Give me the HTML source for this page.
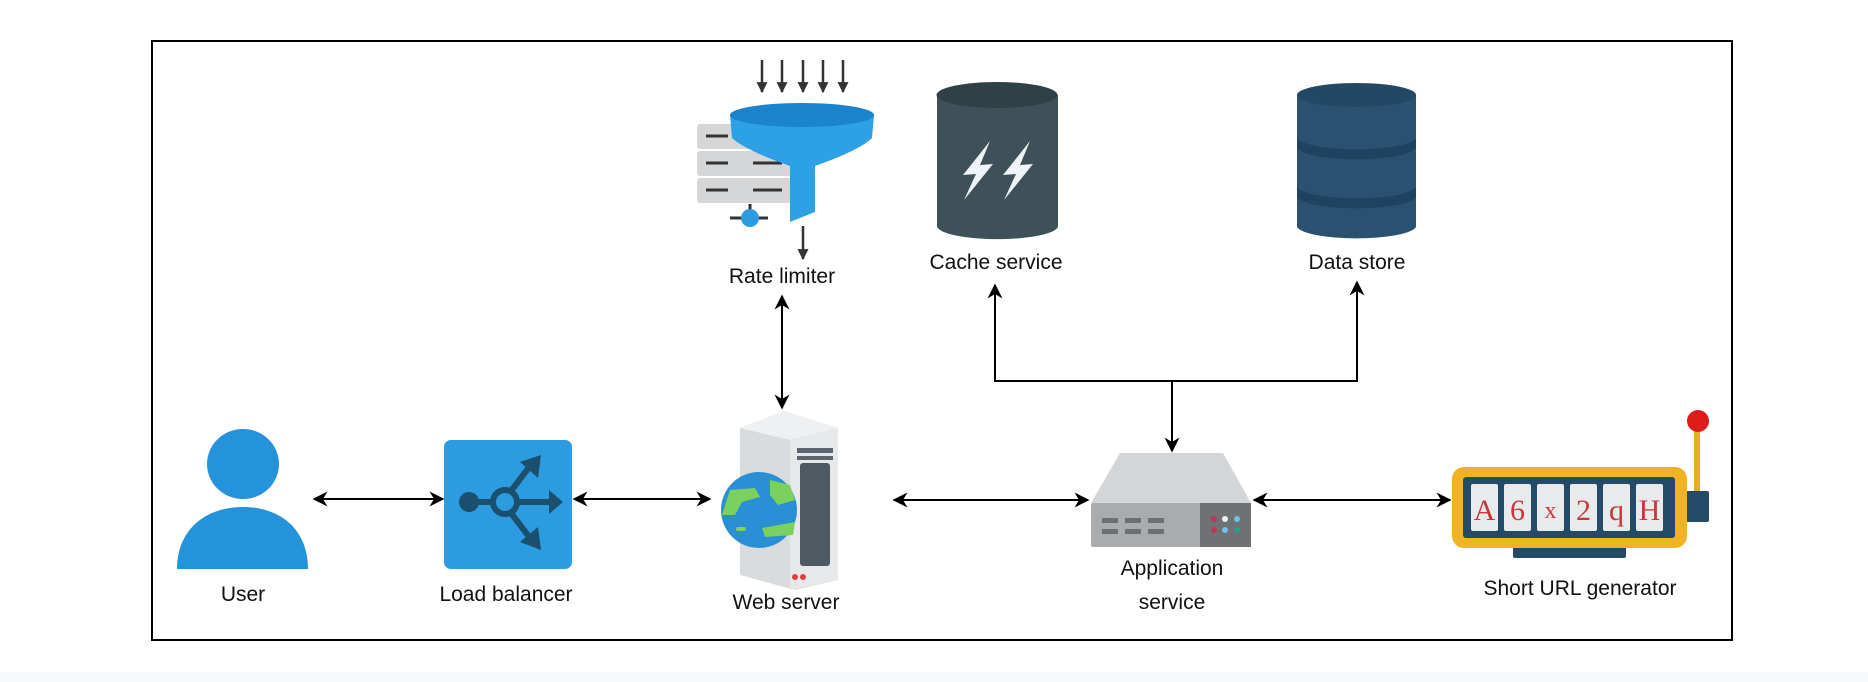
<!DOCTYPE html>
<html><head><meta charset="utf-8"><style>
html,body{margin:0;padding:0;background:#fff;}
svg{display:block;}
text{font-family:"Liberation Sans",Arial,sans-serif;font-size:21px;fill:#111;text-anchor:middle;}
</style></head><body>
<svg width="1868" height="682" viewBox="0 0 1868 682" xmlns="http://www.w3.org/2000/svg">
<defs>
<marker id="a" viewBox="0 0 10 10" refX="9" refY="5" markerWidth="15" markerHeight="15" orient="auto-start-reverse" markerUnits="userSpaceOnUse">
<path d="M0,0 L10,5 L0,10 L3,5 Z" fill="#000"/></marker>
<marker id="s" viewBox="0 0 10 10" refX="9" refY="5" markerWidth="11" markerHeight="11" orient="auto" markerUnits="userSpaceOnUse">
<path d="M0,0 L10,5 L0,10 Z" fill="#333"/></marker>
</defs>
<rect x="0" y="672" width="1868" height="10" fill="#f7f9fa"/>
<rect x="152" y="41" width="1580" height="599" fill="#fff" stroke="#000" stroke-width="2"/>

<g stroke="#000" stroke-width="2" fill="none">
<line x1="314" y1="499" x2="443" y2="499" marker-start="url(#a)" marker-end="url(#a)"/>
<line x1="574" y1="499" x2="710" y2="499" marker-start="url(#a)" marker-end="url(#a)"/>
<line x1="894" y1="500" x2="1088" y2="500" marker-start="url(#a)" marker-end="url(#a)"/>
<line x1="1254" y1="500" x2="1450" y2="500" marker-start="url(#a)" marker-end="url(#a)"/>
<line x1="782" y1="296" x2="782" y2="408" marker-start="url(#a)" marker-end="url(#a)"/>
<polyline points="995,285 995,381 1357,381 1357,282" marker-start="url(#a)" marker-end="url(#a)"/>
<line x1="1172" y1="381" x2="1172" y2="451" marker-end="url(#a)"/>
</g>

<ellipse cx="243" cy="464" rx="36" ry="35" fill="#2593dc"/>
<path d="M177,569 C177,530 205,507 243,507 C281,507 308,530 308,569 Z" fill="#2593dc"/>
<text x="243" y="601">User</text>

<rect x="444" y="440" width="128" height="129" rx="7" fill="#2d9be0"/>
<g fill="#1a4f6e" stroke="#1a4f6e">
<circle cx="469" cy="502" r="10" stroke="none"/>
<line x1="469" y1="502" x2="492" y2="502" stroke-width="6"/>
<circle cx="505" cy="502" r="12" fill="#2d9be0" stroke-width="6"/>
<line x1="517" y1="502" x2="550" y2="502" stroke-width="6"/>
<path d="M549,490 L563,502 L549,514 Z" stroke="none"/>
<line x1="511" y1="491" x2="530" y2="466" stroke-width="6"/>
<path d="M520,462 L541,455 L538,478 Z" stroke="none"/>
<line x1="511" y1="513" x2="530" y2="538" stroke-width="6"/>
<path d="M520,542 L541,550 L538,527 Z" stroke="none"/>
</g>
<text x="506" y="601">Load balancer</text>

<path d="M740,428 L784,411 L838,428 L838,580 L795,590 L740,575 Z" fill="#d9dcdf"/>
<path d="M790,440 L838,428 L838,580 L790,590 Z" fill="#e6e8ea"/>
<path d="M740,428 L784,411 L838,428 L790,440 Z" fill="#eef0f1"/>
<rect x="797" y="448" width="36" height="5" fill="#5d6670"/>
<rect x="797" y="456" width="36" height="4" fill="#5d6670"/>
<rect x="800" y="463" width="30" height="103" rx="3" fill="#4f5961"/>
<circle cx="795" cy="577" r="3" fill="#e04040"/><circle cx="803" cy="577" r="3" fill="#e04040"/>
<circle cx="759" cy="510" r="38" fill="#2b8fd6"/>
<path d="M730,490 L755,488 L760,497 L742,502 L735,515 L722,515 Z" fill="#7bd05e"/>
<path d="M770,480 L790,485 L795,500 L778,505 L770,495 Z" fill="#7bd05e"/>
<path d="M762,528 L795,522 L793,535 L765,537 Z" fill="#7bd05e"/>
<rect x="736" y="527" width="10" height="4" rx="2" fill="#7bd05e"/>
<text x="786" y="609">Web server</text>

<g stroke="#333" stroke-width="2.5">
<line x1="762" y1="60" x2="762" y2="92" marker-end="url(#s)"/>
<line x1="782" y1="60" x2="782" y2="92" marker-end="url(#s)"/>
<line x1="803" y1="60" x2="803" y2="92" marker-end="url(#s)"/>
<line x1="823" y1="60" x2="823" y2="92" marker-end="url(#s)"/>
<line x1="843" y1="60" x2="843" y2="92" marker-end="url(#s)"/>
<line x1="803" y1="226" x2="803" y2="259" marker-end="url(#s)"/>
</g>
<g fill="#d4d6d8">
<rect x="697" y="124" width="95" height="25" rx="3"/>
<rect x="697" y="151" width="95" height="25" rx="3"/>
<rect x="697" y="178" width="95" height="25" rx="3"/>
</g>
<g stroke="#333" stroke-width="3">
<line x1="706" y1="136" x2="728" y2="136"/>
<line x1="706" y1="163" x2="728" y2="163"/><line x1="753" y1="163" x2="782" y2="163"/>
<line x1="706" y1="190" x2="728" y2="190"/><line x1="753" y1="190" x2="782" y2="190"/>
<line x1="730" y1="218" x2="768" y2="218"/><line x1="750" y1="204" x2="750" y2="212"/>
</g>
<circle cx="750" cy="218" r="9" fill="#2d9be0"/>
<path d="M730,115 L732,138 Q745,150 790,166 L790,222 L815,212 L815,166 Q860,150 872,138 L874,115 Z" fill="#2ea0e6"/>
<ellipse cx="802" cy="115" rx="72" ry="12" fill="#1a84cc"/>
<text x="782" y="283">Rate limiter</text>

<path d="M937,95 L937,226 A60,13 0 0 0 1058,226 L1058,95 Z" fill="#3e5158"/>
<ellipse cx="997" cy="95" rx="60.5" ry="13" fill="#2f4046"/>
<path d="M990,141 L963,175 L976,174 L964,200 L993,164 L980,165 Z" fill="#eef4f8"/>
<path d="M1030,141 L1003,175 L1016,174 L1004,200 L1033,164 L1020,165 Z" fill="#eef4f8"/>
<text x="996" y="269">Cache service</text>

<path d="M1297,95 L1297,227 A60,13 0 0 0 1416,227 L1416,95 Z" fill="#2b5170"/>
<ellipse cx="1356.5" cy="95" rx="59.5" ry="12" fill="#244863"/>
<path d="M1297,138 A60,13 0 0 0 1416,138 L1416,148 A60,13 0 0 1 1297,148 Z" fill="#1f4260"/>
<path d="M1297,187 A60,13 0 0 0 1416,187 L1416,197 A60,13 0 0 1 1297,197 Z" fill="#1f4260"/>
<text x="1357" y="269">Data store</text>

<path d="M1120,453 L1223,453 L1251,503 L1091,503 Z" fill="#d3d5d7"/>
<rect x="1091" y="503" width="160" height="44" rx="2" fill="#a9abad"/>
<rect x="1200" y="503" width="51" height="44" fill="#6f7274"/>
<g fill="#6d7073">
<rect x="1102" y="518" width="16" height="5"/><rect x="1125" y="518" width="16" height="5"/><rect x="1148" y="518" width="16" height="5"/>
<rect x="1102" y="529" width="16" height="5"/><rect x="1125" y="529" width="16" height="5"/><rect x="1148" y="529" width="16" height="5"/>
</g>
<circle cx="1214" cy="519" r="3" fill="#c5325a"/><circle cx="1225" cy="519" r="3" fill="#eee"/><circle cx="1237" cy="519" r="3" fill="#6fc0ea"/>
<circle cx="1214" cy="530" r="3" fill="#c5325a"/><circle cx="1225" cy="530" r="3" fill="#6fc0ea"/><circle cx="1237" cy="530" r="3" fill="#2a9d8a"/>
<text x="1172" y="575">Application</text>
<text x="1172" y="609">service</text>

<rect x="1694" y="422" width="6" height="72" fill="#e8ae22"/>
<circle cx="1698" cy="421" r="11" fill="#e01b1b"/>
<rect x="1686" y="491" width="23" height="31" rx="2" fill="#234b68"/>
<rect x="1513" y="546" width="113" height="12" rx="2" fill="#234b68"/>
<rect x="1452" y="467" width="235" height="81" rx="12" fill="#f0b323"/>
<rect x="1463" y="477" width="212" height="61" rx="3" fill="#234b68"/>
<g fill="#e8eaec">
<rect x="1471" y="484" width="27" height="47" rx="2"/><rect x="1504" y="484" width="27" height="47" rx="2"/><rect x="1537" y="484" width="27" height="47" rx="2"/>
<rect x="1570" y="484" width="27" height="47" rx="2"/><rect x="1603" y="484" width="27" height="47" rx="2"/><rect x="1636" y="484" width="27" height="47" rx="2"/>
</g>
<text x="1484.5" y="520" style="font-family:'Liberation Serif',serif;font-size:30px;fill:#c8383a">A</text>
<text x="1517.5" y="520" style="font-family:'Liberation Serif',serif;font-size:30px;fill:#c8383a">6</text>
<text x="1550.5" y="518" style="font-family:'Liberation Serif',serif;font-size:24px;fill:#c8383a">x</text>
<text x="1583.5" y="520" style="font-family:'Liberation Serif',serif;font-size:30px;fill:#c8383a">2</text>
<text x="1616.5" y="520" style="font-family:'Liberation Serif',serif;font-size:30px;fill:#c8383a">q</text>
<text x="1649.5" y="520" style="font-family:'Liberation Serif',serif;font-size:30px;fill:#c8383a">H</text>
<text x="1580" y="595">Short URL generator</text>
</svg>
</body></html>
